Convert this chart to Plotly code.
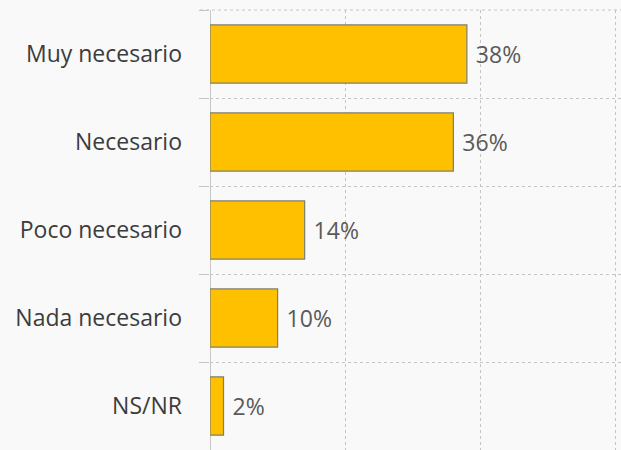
import plotly.graph_objects as go

categories = ["Muy necesario", "Necesario", "Poco necesario", "Nada necesario", "NS/NR"]
values = [38, 36, 14, 10, 2]

FONT = "Open Sans, Noto Sans, sans-serif"

fig = go.Figure(go.Bar(
    x=values,
    y=categories,
    orientation="h",
    marker=dict(color="#FFC000", line=dict(color="#7d7f6a", width=1.2)),
    text=[f"\u00a0{v}%" for v in values],
    textposition="outside",
    cliponaxis=False,
    textfont=dict(family=FONT, size=23, color="#5a5a5a"),
    width=0.66,
))

fig.update_layout(
    width=621, height=450,
    margin=dict(l=210, r=0, t=10, b=0),
    paper_bgcolor="#f9f9f9",
    plot_bgcolor="#f9f9f9",
    showlegend=False,
    font=dict(family=FONT, size=23, color="#3a3a3a"),
)
# top frame border of the plot area (dotted, like the gridlines)
fig.add_shape(
    type="line", xref="paper", yref="paper",
    x0=-10 / 411, x1=1, y0=1, y1=1,
    line=dict(color="#c4c4c4", width=1, dash="dot"),
    layer="below",
)
fig.update_xaxes(
    range=[0, 60.8],
    dtick=20,
    showticklabels=False,
    showgrid=True,
    gridcolor="#c4c4c4",
    griddash="dot",
    gridwidth=1,
    zeroline=True,
    zerolinecolor="#c8c8c8",
    zerolinewidth=1,
    fixedrange=True,
)
fig.update_yaxes(
    type="category",
    range=[4.5, -0.5],
    tickson="boundaries",
    showgrid=True,
    gridcolor="#c4c4c4",
    griddash="dot",
    gridwidth=1,
    ticks="outside",
    ticklen=10,
    tickcolor="#c4c4c4",
    ticklabelstandoff=27,
    tickfont=dict(family=FONT, size=23, color="#3c3c3c"),
    fixedrange=True,
)

fig.write_html(
    "out.html",
    config={"displayModeBar": False},
    post_script="document.body.style.margin='0';",
)
